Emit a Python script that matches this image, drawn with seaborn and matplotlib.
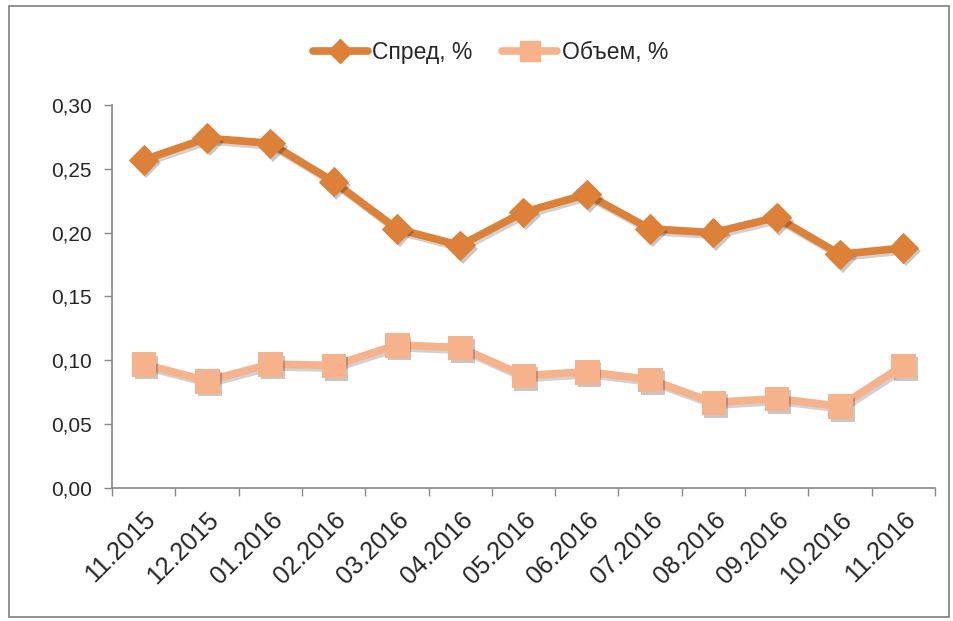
import matplotlib
matplotlib.use("Agg")
import matplotlib.pyplot as plt
import matplotlib.patheffects as pe
from matplotlib.lines import Line2D
from matplotlib.ticker import FixedLocator, FuncFormatter
import pandas as pd
import seaborn as sns

sns.set_theme(style="white")
plt.rcParams["font.family"] = ["Liberation Sans", "DejaVu Sans"]

months = ["11.2015", "12.2015", "01.2016", "02.2016", "03.2016", "04.2016", "05.2016",
          "06.2016", "07.2016", "08.2016", "09.2016", "10.2016", "11.2016"]
spread = [0.257, 0.274, 0.270, 0.240, 0.203, 0.190, 0.216, 0.230, 0.203, 0.200, 0.212, 0.183, 0.188]
volume = [0.097, 0.084, 0.097, 0.096, 0.112, 0.110, 0.088, 0.091, 0.085, 0.067, 0.070, 0.064, 0.096]

SPREAD_COLOR = "#DD8038"
VOLUME_COLOR = "#F6B28A"

df = pd.DataFrame({"pos": range(len(months)), "month": months, "spread": spread, "volume": volume})

fig = plt.figure(figsize=(9.54, 6.21), dpi=100)
ax = fig.add_axes([0.1174, 0.2142, 0.8626, 0.6167])

line_fx = [pe.SimpleLineShadow(offset=(1.5, -2), shadow_color="black", alpha=0.18), pe.Normal()]
mark_fx = [pe.SimplePatchShadow(offset=(2, -2.5), shadow_rgbFace="black", alpha=0.22), pe.Normal()]

series = [("spread", SPREAD_COLOR, "D", 15), ("volume", VOLUME_COLOR, "s", 17)]
for col, color, mk, ms in series:
    n = len(ax.lines)
    sns.lineplot(data=df, x="pos", y=col, ax=ax, color=color, lw=5.5)
    ax.lines[n].set_path_effects(line_fx)
    sns.lineplot(data=df, x="pos", y=col, ax=ax, color=color, linestyle="",
                 marker=mk, markersize=ms, markeredgecolor=color)
    ax.lines[n + 1].set_path_effects(mark_fx)

ax.set_xlim(-0.5, len(months) - 0.5)
ax.set_ylim(0, 0.30)
ax.set_yticks([0, 0.05, 0.10, 0.15, 0.20, 0.25, 0.30])
ax.yaxis.set_major_formatter(FuncFormatter(lambda v, p: f"{v:.2f}".replace(".", ",")))

ax.set_xticks(range(len(months)))
ax.set_xticklabels(months, rotation=45, ha="right", rotation_mode="anchor")
ax.xaxis.set_minor_locator(FixedLocator([i - 0.5 for i in range(len(months) + 1)]))
ax.tick_params(axis="x", which="major", length=0, pad=14, labelsize=18)
ax.tick_params(axis="x", which="minor", length=6, width=1, color="#888888", direction="out")
ax.tick_params(axis="y", length=6, width=1, color="#888888", direction="out", labelsize=15, pad=8.5)
ax.tick_params(axis="both", bottom=True, left=True, which="both")

for s in ["top", "right"]:
    ax.spines[s].set_visible(False)
for s in ["left", "bottom"]:
    ax.spines[s].set_color("#888888")
    ax.spines[s].set_linewidth(1.2)

ax.set_xlabel("")
ax.set_ylabel("")

handles = [Line2D([], [], color=SPREAD_COLOR, lw=5.5, marker="D", markersize=12),
           Line2D([], [], color=VOLUME_COLOR, lw=5.5, marker="s", markersize=14)]
fig.legend(handles, ["Спред, %", "Объем, %"], loc="center", bbox_to_anchor=(0.514, 0.916), ncol=2,
           frameon=False, fontsize=16.5, handlelength=2.4, columnspacing=1.3, handletextpad=0.2)

fig.patches.append(plt.Rectangle((0.009, 0.006), 0.986, 0.984, transform=fig.transFigure,
                                 fill=False, edgecolor="#7F7F7F", lw=1.2))

fig.savefig("out.png", dpi=100)
